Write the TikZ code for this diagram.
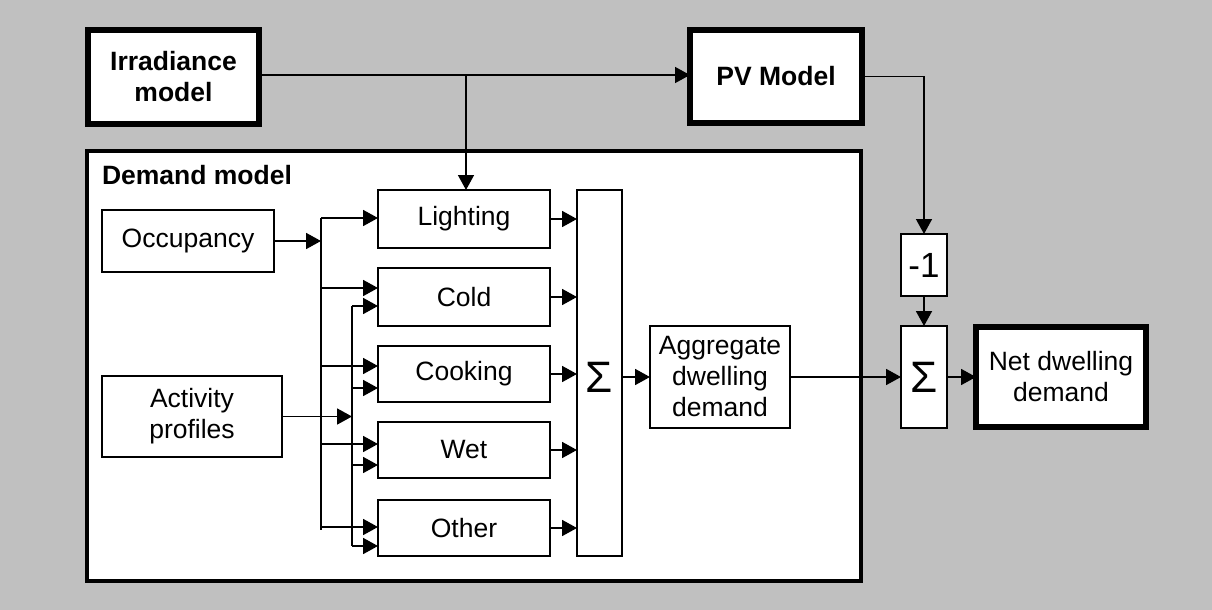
\documentclass[tikz,border=0pt]{standalone}
\usepackage{fontspec}
\setmainfont{Liberation Sans}
\usetikzlibrary{arrows.meta}
\begin{document}
\begin{tikzpicture}[x=1pt,y=-1pt,
  every node/.style={inner sep=0pt,outer sep=0pt,align=center,font=\fontsize{26.5}{31}\selectfont},
  thinbox/.style={draw=black,fill=white,line width=1.5pt},
  thickbox/.style={draw=black,fill=white,line width=6pt,font=\fontsize{26.5}{31}\selectfont\bfseries},
  conn/.style={line width=1.8pt,-{Triangle[length=15pt,width=16pt]}},
  thinconn/.style={line width=1.5pt,-{Triangle[length=15pt,width=16pt]}},
  wire/.style={line width=1.8pt},
  sigma/.style={font=\fontsize{44}{44}\selectfont}]
\fill[fill={rgb,255:red,192;green,192;blue,192}] (0,0) rectangle (1212,610);
\useasboundingbox (0,0) rectangle (1212,610);

% Demand model container
\node[draw=black,fill=white,line width=4pt,minimum width=774pt,minimum height=430pt] (dm) at (474,366) {};
\node[anchor=west,font=\fontsize{26.5}{31}\selectfont\bfseries] (dmlabel) at (102,175) {Demand model};

% Top level
\node[thickbox,minimum width=171pt,minimum height=94pt] (irr) at (173.5,77) {Irradiance\\model};
\node[thickbox,minimum width=172pt,minimum height=93pt] (pv) at (776,76.5) {PV Model};

% Inputs
\node[thinbox,minimum width=172pt,minimum height=62pt] (occ) at (188,241) {Occupancy};
\node[thinbox,minimum width=180pt,minimum height=81pt] (act) at (192,416.5) {Activity\\profiles};

% End uses
\node[thinbox,minimum width=172pt,minimum height=58pt] (light) at (464,219) {Lighting};
\node[thinbox,minimum width=172pt,minimum height=58pt] (cold) at (464,297) {Cold};
\node[thinbox,minimum width=172pt,minimum height=56pt] (cook) at (464,374) {Cooking};
\node[thinbox,minimum width=172pt,minimum height=56pt] (wet) at (464,450) {Wet};
\node[thinbox,minimum width=172pt,minimum height=56pt] (other) at (464,528) {Other};

% Sums and outputs
\node[thinbox,minimum width=45pt,minimum height=366pt] (sum1) at (599.5,373) {};
\node[sigma] (sum1t) at (599.5,377) {Σ};
\node[thinbox,minimum width=140pt,minimum height=102pt] (agg) at (720,377) {Aggregate\\dwelling\\demand};
\node[thinbox,minimum width=46pt,minimum height=102pt,sigma] (sum2) at (924,377) {Σ};
\node[thinbox,minimum width=46pt,minimum height=62pt,font=\fontsize{35}{35}\selectfont] (neg) at (924,265) {-1};
\node[thickbox,minimum width=170pt,minimum height=100pt,font=\fontsize{26.5}{31}\selectfont] (net) at (1061,377) {Net dwelling\\demand};

% Coordinates for buses
\coordinate (j1) at (466,75);
\coordinate (b1t) at (321,218);
\coordinate (b1b) at (321,530);
\coordinate (b2t) at (352,306);
\coordinate (b2b) at (352,546);

% Irradiance connections
\draw[thinconn] (irr.east |- j1) -- (pv.west |- j1);
\draw[thinconn] (j1) -- (j1 |- light.north);
\draw[thinconn] (pv.east) -| (neg.north);

% Buses
\draw[wire] (b1t) -- (b1b);
\draw[wire] (b2t) -- (b2b);
\draw[conn] (occ.east) -- (occ.east -| b1t);
\draw[conn] (act.east) -- (act.east -| b2t);

% Bus 1 branches
\draw[conn] (b1t) -- (b1t -| light.west);
\draw[conn] (321,288) -- (cold.west |- 0,288);
\draw[conn] (321,366) -- (cook.west |- 0,366);
\draw[conn] (321,444) -- (wet.west |- 0,444);
\draw[conn] (321,527) -- (other.west |- 0,527);

% Bus 2 branches
\draw[conn] (b2t) -- (b2t -| cold.west);
\draw[conn] (352,388) -- (cook.west |- 0,388);
\draw[conn] (352,465) -- (wet.west |- 0,465);
\draw[conn] (b2b) -- (b2b -| other.west);

% End uses to sum
\draw[conn] (light.east) -- (light.east -| sum1.west);
\draw[conn] (cold.east) -- (cold.east -| sum1.west);
\draw[conn] (cook.east) -- (cook.east -| sum1.west);
\draw[conn] (wet.east) -- (wet.east -| sum1.west);
\draw[conn] (other.east) -- (other.east -| sum1.west);

% Output chain
\draw[conn] (sum1.east |- agg.west) -- (agg.west);
\draw[conn] (agg.east) -- (sum2.west);
\draw[conn] (sum2.east) -- (net.west);
\draw[conn] (neg.south) -- (sum2.north);
\end{tikzpicture}
\end{document}
